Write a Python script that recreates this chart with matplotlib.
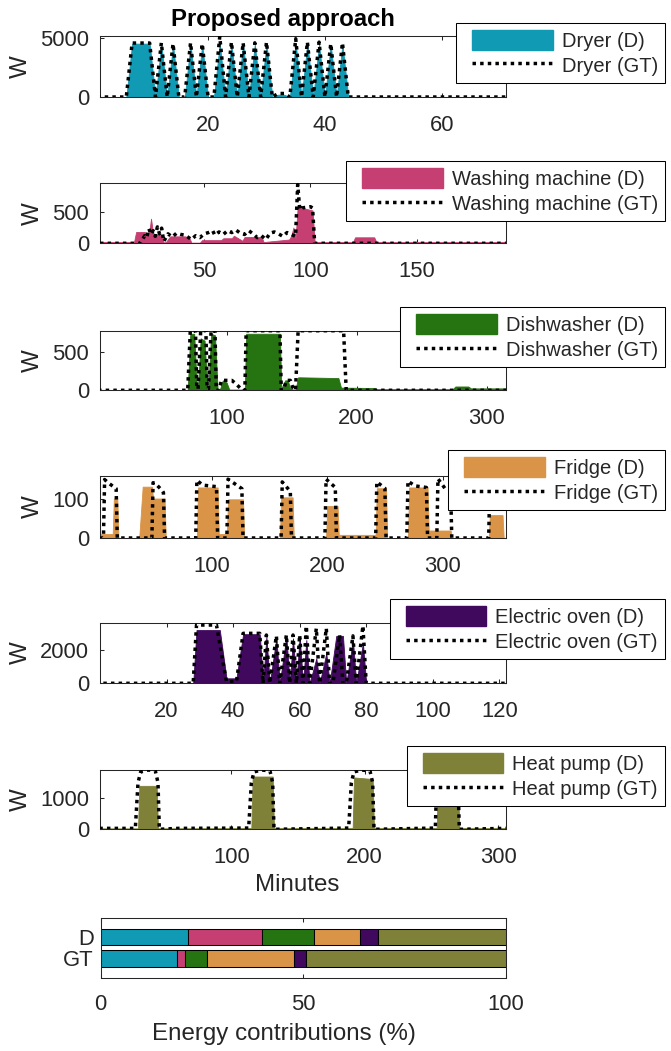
import numpy as np
import matplotlib

matplotlib.use("Agg")

import matplotlib.pyplot as plt
from matplotlib.patches import Patch, Rectangle
from matplotlib.lines import Line2D
from matplotlib.legend_handler import HandlerPatch, HandlerLine2D

plt.rcParams["font.family"] = ["Liberation Sans", "DejaVu Sans"]
plt.rcParams["axes.linewidth"] = 0.75
plt.rcParams["axes.edgecolor"] = "#262626"
plt.rcParams["xtick.color"] = "#262626"
plt.rcParams["ytick.color"] = "#262626"
plt.rcParams["xtick.direction"] = "in"
plt.rcParams["ytick.direction"] = "in"
plt.rcParams["xtick.top"] = True
plt.rcParams["ytick.right"] = True
plt.rcParams["xtick.major.size"] = 3
plt.rcParams["ytick.major.size"] = 3
plt.rcParams["xtick.major.width"] = 0.75
plt.rcParams["ytick.major.width"] = 0.75

TICK_FS = 15.8
LABEL_FS = 17.4
LEGEND_FS = 14.5
GT_STYLE = (0, (1, 1.2))

# --- dryer (one sample per minute) ---
dryer_t = np.arange(1, 72)
dryer_gt = [0, 0, 0, 0, 0, 0, 4600, 4600, 4600, 4600,
            0, 4620, 0, 4540, 0, 0, 4620, 0, 4540, 0,
            0, 5150, 0, 4680, 0, 4620, 0, 4620, 0, 4680,
            0, 300, 300, 0, 4970, 0, 4680, 0, 4680, 0,
            4540, 0, 4620, 0] + [0] * 27
dryer_d = [0, 0, 0, 0, 0, 0, 4550, 4550, 4550, 4550,
           0, 4500, 0, 4450, 0, 0, 4500, 0, 4450, 0,
           0, 4550, 0, 4550, 0, 4500, 0, 4500, 0, 4550,
           0, 200, 200, 0, 4550, 0, 4550, 0, 4500, 0,
           4450, 0, 4500, 0] + [0] * 27

# --- washing machine ---
wash_gt_t = [1, 20, 21, 22, 23, 24, 25, 26, 27, 28, 29, 30, 31, 33, 35, 37, 39, 41,
             44, 46, 48, 50, 52, 54, 55, 57, 59, 61, 63, 65, 67, 69, 71, 73, 75, 77,
             79, 81, 83, 85, 87, 89, 91, 93, 94, 95, 96, 100, 101, 102, 192]
wash_gt = [0, 0, 60, 120, 90, 230, 140, 200, 110, 260, 150, 240, 30, 150, 100, 160, 140, 130,
           60, 120, 90, 150, 170, 200, 130, 180, 140, 200, 170, 210, 160, 140, 200, 150, 90, 120,
           60, 160, 180, 150, 110, 170, 140, 110, 930, 530, 560, 580, 560, 0, 0]
wash_d_t = [1, 17, 18, 22, 24, 25, 26, 28, 30, 31, 32, 34, 41, 43, 44, 48, 49, 58, 59,
            63, 64, 68, 69, 77, 78, 90, 91, 92, 93, 94, 101, 102, 120, 121, 130, 131, 192]
wash_d = [20, 20, 180, 180, 130, 390, 150, 140, 120, 10, 20, 110, 110, 90, 10, 10, 50, 50, 80,
          80, 120, 40, 100, 100, 20, 60, 120, 250, 80, 580, 520, 20, 20, 95, 95, 20, 20]

# --- dishwasher ---
dish_gt_t = [1, 70, 72, 76, 77, 78, 80, 84, 85, 86, 88, 91, 92, 94, 96, 100, 104, 108,
             111, 113, 114, 115, 141, 142, 144, 146, 149, 151, 153, 155, 156, 190, 192, 315]
dish_gt = [0, 0, 780, 780, 20, 20, 780, 780, 20, 20, 780, 780, 0, 0, 130, 130, 130, 70,
           20, 20, 0, 780, 780, 0, 20, 130, 130, 30, 0, 780, 780, 780, 0, 0]
dish_d_t = [1, 70, 72, 75, 77, 78, 80, 83, 85, 86, 88, 91, 93, 95, 97, 100, 102, 113, 114,
            115, 141, 142, 145, 147, 149, 151, 153, 155, 156, 186, 188, 214, 216, 274, 276,
            286, 288, 315]
dish_d = [0, 0, 740, 740, 50, 40, 680, 650, 40, 40, 740, 720, 20, 20, 130, 100, 10, 10, 20,
          740, 740, 20, 130, 130, 20, 10, 10, 170, 170, 160, 35, 30, 15, 15, 50,
          50, 25, 25]

# --- fridge ---
fridge_gt_t = [3, 6, 7, 10, 17, 18, 48, 49, 51, 57, 58, 59, 86, 87, 92, 104, 105,
               113, 114, 126, 127, 160, 161, 168, 169, 198, 199, 207, 208, 242, 243, 250, 251,
               269, 270, 276, 286, 287, 295, 296, 302, 307, 308, 340, 341, 355]
fridge_gt = [0, 0, 148, 140, 125, 0, 0, 140, 138, 120, 115, 0, 0, 146, 134, 130, 0,
             0, 149, 125, 0, 0, 142, 118, 0, 0, 149, 128, 0, 0, 142, 126, 0,
             0, 144, 132, 128, 0, 0, 150, 126, 120, 0, 0, 148, 140]
fridge_d_t = [3, 14, 15, 18, 19, 37, 40, 48, 49, 59, 60, 87, 88, 105, 106, 113, 114, 127, 128,
              159, 160, 170, 171, 199, 200, 209, 210, 242, 243, 251, 252, 270, 271, 287, 288,
              307, 308, 340, 341, 352, 353, 355]
fridge_d = [10, 10, 100, 100, 0, 0, 130, 130, 100, 100, 0, 0, 128, 128, 10, 10, 98, 98, 0,
            0, 103, 103, 0, 0, 81, 81, 8, 8, 126, 126, 0, 0, 128, 128, 19,
            19, 0, 0, 58, 58, 0, 0]

# --- electric oven ---
oven_gt_t = [1, 28, 29, 35, 38, 41, 43, 48, 49, 50, 51, 53, 54, 56, 57, 58, 59, 60, 61,
             62, 63, 65, 66, 68, 69, 70, 72, 73, 74, 76, 77, 79, 80, 122]
oven_gt = [0, 0, 3500, 3500, 100, 100, 3000, 3000, 0, 2900, 0, 2850, 0, 2900, 0, 2900, 0, 2900, 0,
           3450, 0, 3300, 0, 3300, 0, 0, 2900, 0, 0, 2850, 0, 3450, 0, 0]
oven_d_t = [1, 28, 29, 36, 38, 41, 43, 48, 49, 50, 51, 53, 54, 56, 57, 58, 59, 60, 61,
            62, 63, 65, 66, 68, 69, 71, 73, 74, 76, 77, 79, 80, 122]
oven_d = [0, 0, 3200, 3200, 300, 300, 2950, 2950, 0, 2800, 0, 2700, 0, 2800, 0, 2700, 0, 2800, 0,
          2600, 0, 1500, 0, 1800, 0, 2850, 2850, 0, 2600, 0, 2400, 0, 0]

# --- heat pump ---
heat_gt_t = [1, 28, 30, 32, 38, 43, 45, 46, 60, 113, 115, 117, 123, 129, 131, 132,
             188, 190, 192, 198, 204, 206, 207, 253, 254, 256, 262, 268, 270, 271, 306]
heat_gt = [30, 30, 1500, 1850, 1910, 1880, 1500, 0, 30, 40, 1500, 1850, 1910, 1880, 1500, 0,
           40, 1500, 1850, 1910, 1880, 1500, 0, 40, 1500, 1850, 1910, 1880, 1500, 0, 30]
heat_d_t = [1, 30, 31, 44, 45, 115, 116, 131, 132, 191, 192, 206, 207, 254, 255, 270, 271, 306]
heat_d = [30, 30, 1400, 1400, 30, 40, 1700, 1700, 40, 40, 1670, 1620, 40, 40, 1500, 1500, 40, 40]

# --- energy shares (%) ---
appliances = ["Dryer", "Washing machine", "Dishwasher", "Fridge", "Electric oven", "Heat pump"]
colors = ["#109AB3", "#C53F73", "#267311", "#D99448", "#40095E", "#808138"]
share_d = [21.5, 18.4, 12.8, 11.2, 4.5, 31.6]
share_gt = [18.9, 1.8, 5.5, 21.6, 2.9, 49.3]

W, H = 671, 1051
fig = plt.figure(figsize=(W / 100, H / 100), dpi=100)


def px_axes(x0, y0, x1, y1):
    return fig.add_axes([x0 / W, 1 - y1 / H, (x1 - x0) / W, (y1 - y0) / H])


def patch_box(legend, orig_handle, xdescent, ydescent, width, height, fontsize):
    pad = 0.45 * fontsize
    return Rectangle((-xdescent + pad, -ydescent), width - 2 * pad, height)


handlers = {
    Patch: HandlerPatch(patch_func=patch_box),
    Line2D: HandlerLine2D(numpoints=2, marker_pad=0.45),
}


def panel(box, t_d, v_d, t_gt, v_gt, color, name, xlim, ylim, xticks, yticks, leg_top):
    ax = px_axes(*box)
    ax.fill_between(t_d, 0, v_d, color=color, lw=0.6, zorder=2)
    ax.plot(t_gt, v_gt, color="k", lw=2.5, ls=GT_STYLE, zorder=3)
    ax.set_xlim(*xlim)
    ax.set_ylim(*ylim)
    ax.set_xticks(xticks)
    ax.set_yticks(yticks)
    ax.tick_params(axis="x", labelsize=TICK_FS, pad=13)
    ax.tick_params(axis="y", labelsize=TICK_FS, pad=8)
    ax.set_ylabel("W", fontsize=LABEL_FS, color="#262626", labelpad=6)
    handles = [Patch(facecolor=color, edgecolor=color),
               Line2D([], [], color="k", lw=2.5, ls=GT_STYLE)]
    leg = ax.legend(handles, [f"{name} (D)", f"{name} (GT)"],
                    loc="upper right", bbox_to_anchor=(665 / W, 1 - leg_top / H),
                    bbox_transform=fig.transFigure, handler_map=handlers,
                    fontsize=LEGEND_FS, fancybox=False, framealpha=1,
                    edgecolor="k", borderpad=0.35, borderaxespad=0,
                    handlelength=4.9, handleheight=1.15, handletextpad=0.0,
                    labelspacing=0.22)
    leg.get_frame().set_linewidth(0.75)
    for txt in leg.get_texts():
        txt.set_color("#262626")
    return ax


ax1 = panel((100, 36, 506, 97), dryer_t, dryer_d, dryer_t, dryer_gt, colors[0],
            appliances[0], (1.5, 71), (0, 5200), [20, 40, 60], [0, 5000], 22.7)
ax2 = panel((100, 183.3, 506, 243.3), wash_d_t, wash_d, wash_gt_t, wash_gt, colors[1],
            appliances[1], (1, 192), (0, 950), [50, 100, 150], [0, 500], 161)
ax3 = panel((100, 330.7, 506, 390.3), dish_d_t, dish_d, dish_gt_t, dish_gt, colors[2],
            appliances[2], (2.5, 315), (0, 780), [100, 200, 300], [0, 500], 307)
ax4 = panel((100, 476, 506, 538), fridge_d_t, fridge_d, fridge_gt_t, fridge_gt, colors[3],
            appliances[3], (3, 355), (0, 157), [100, 200, 300], [0, 100], 450)
ax5 = panel((100, 622.7, 506, 683.3), oven_d_t, oven_d, oven_gt_t, oven_gt, colors[4],
            appliances[4], (0, 122), (0, 3640), [20, 40, 60, 80, 100, 120], [0, 2000], 599)
ax6 = panel((100, 770, 506, 829.3), heat_d_t, heat_d, heat_gt_t, heat_gt, colors[5],
            appliances[5], (1.5, 306), (0, 1910), [100, 200, 300], [0, 1000], 746)
ax6.set_xlabel("Minutes", fontsize=LABEL_FS, color="#262626")
ax6.xaxis.set_label_coords(0.485, -0.75)

fig.text(283 / W, 1 - 26 / H, "Proposed approach", ha="center", va="baseline",
         fontsize=17.2, fontweight="bold")

# stacked energy contribution bars
axb = px_axes(100.7, 918.3, 506, 978.3)
left_d, left_gt = 0.0, 0.0
for c, d, g in zip(colors, share_d, share_gt):
    axb.barh([1, 2], [d, g], left=[left_d, left_gt], height=0.78,
             color=c, edgecolor="k", linewidth=0.75, zorder=2)
    left_d += d
    left_gt += g
axb.set_xlim(0, 100)
axb.set_ylim(2.95, 0.1)
axb.set_xticks([0, 50, 100])
axb.set_yticks([1, 2])
axb.set_yticklabels(["D", "GT"])
axb.tick_params(axis="x", labelsize=TICK_FS, pad=11)
axb.tick_params(axis="y", labelsize=TICK_FS, pad=5, length=0)
axb.set_xlabel("Energy contributions (%)", fontsize=LABEL_FS, color="#262626")
axb.xaxis.set_label_coords(0.452, -0.74)

fig.savefig("out.png", dpi=100)
plt.close(fig)
